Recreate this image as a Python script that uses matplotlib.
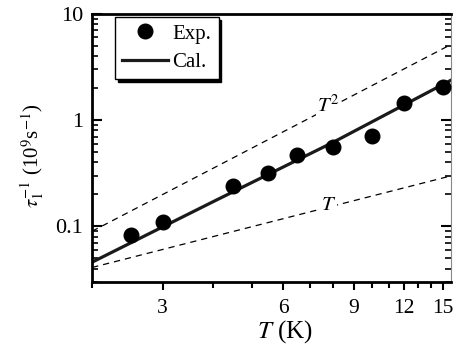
import matplotlib.pyplot as plt

plt.rcParams['font.family'] = 'Liberation Serif'
plt.rcParams['mathtext.fontset'] = 'stix'

# experimental points
T_exp = [2.5, 3, 4.5, 5.5, 6.5, 8, 10, 12, 15]
rate_exp = [0.082, 0.11, 0.24, 0.32, 0.47, 0.56, 0.71, 1.45, 2.05]

# calculated curve
T_cal = [2, 4, 8, 15.8]
rate_cal = [0.046, 0.17, 0.62, 2.4]

# guide lines ~T^2 and ~T
T_ref = [2, 15.8]
rate_t2 = [0.09, 5.2]
rate_t1 = [0.041, 0.30]

fig = plt.figure(figsize=(4.54, 3.55), dpi=100)
ax = fig.add_axes([0.203, 0.206, 0.790, 0.755])

ax.plot(T_ref, rate_t2, 'k--', lw=0.9, dashes=(5, 4))
ax.plot(T_ref, rate_t1, 'k--', lw=0.9, dashes=(5, 4))
ax.plot(T_cal, rate_cal, '-', color='#1a1a1a', lw=2.3, label='Cal.')
ax.plot(T_exp, rate_exp, 'o', color='k', ms=10.5, label='Exp.', zorder=5)

ax.text(7.75, 1.36, r'$T^2$', fontsize=15, ha='center', va='center',
        bbox=dict(facecolor='white', edgecolor='none', pad=0.5))
ax.text(7.8, 0.158, r'$T$', fontsize=15, ha='center', va='center',
        bbox=dict(facecolor='white', edgecolor='none', pad=0.5))

ax.set_xscale('log')
ax.set_yscale('log')
ax.set_xlim(2, 15.7)
ax.set_ylim(0.03, 10)

ax.set_xticks([3, 6, 9, 12, 15])
ax.set_xticklabels(['3', '6', '9', '12', '15'])
ax.set_xticks([2, 4, 5, 7, 8, 10, 11, 13, 14], minor=True)
ax.xaxis.set_minor_formatter(plt.NullFormatter())
ax.set_yticks([0.1, 1, 10])
ax.set_yticklabels(['0.1', '1', '10'])

ax.tick_params(axis='x', which='major', direction='out', length=6, width=1.5, labelsize=15.5, pad=6)
ax.tick_params(axis='x', which='minor', direction='out', length=4, width=1.5)
ax.tick_params(axis='y', which='major', direction='in', length=7, width=1.5, labelsize=16, pad=6.5, right=True)
ax.tick_params(axis='y', which='minor', direction='in', length=4, width=1.2, right=True)

for s in ['left', 'bottom', 'top']:
    ax.spines[s].set_linewidth(2)
ax.spines['right'].set_linewidth(0.8)
ax.spines['right'].set_color('#888888')

ax.set_xlabel(r'$T$ (K)', fontsize=18)
ax.xaxis.set_label_coords(0.537, -0.135)
ax.set_ylabel(r'$\tau_1^{-1}$ (10$^9$s$^{-1}$)', fontsize=15)
ax.yaxis.set_label_coords(-0.13, 0.47)

handles, labels = ax.get_legend_handles_labels()
leg = ax.legend(handles[::-1], labels[::-1], loc='upper left', fontsize=15,
                frameon=True, fancybox=False, edgecolor='k', handlelength=2.2,
                handletextpad=0.2, borderpad=0.35, labelspacing=0.42,
                borderaxespad=0, bbox_to_anchor=(0.064, 0.989),
                shadow={'facecolor': 'black', 'edgecolor': 'black', 'alpha': 1})
leg.get_frame().set_linewidth(1)
leg.get_frame().set_alpha(1)

fig.savefig('out.png', dpi=100)
